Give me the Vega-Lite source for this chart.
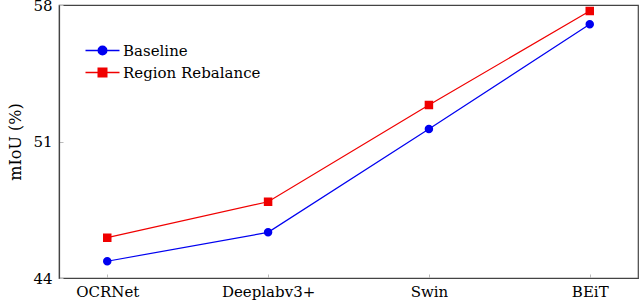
{
  "$schema": "https://vega.github.io/schema/vega-lite/v6.json",
  "width": 579,
  "height": 273,
  "autosize": {"type": "none"},
  "padding": {"left": 59, "top": 5, "right": 2, "bottom": 24},
  "background": "white",
  "config": {
    "view": {"stroke": "#444444", "strokeWidth": 1.2},
    "font": "DejaVu Serif",
    "axis": {
      "domainColor": "#444444",
      "domainWidth": 1.2,
      "tickColor": "#bbbbbb",
      "tickSize": -4,
      "labelColor": "black",
      "labelFont": "DejaVu Serif",
      "labelFontSize": 15,
      "titleFont": "DejaVu Serif",
      "titleFontWeight": "normal",
      "titleColor": "black",
      "titleFontSize": 16,
      "grid": false
    },
    "legend": {
      "labelFont": "DejaVu Serif",
      "labelFontSize": 15,
      "labelColor": "black"
    }
  },
  "data": {
    "values": [
      {"model": "OCRNet", "method": "Baseline", "miou": 44.86},
      {"model": "Deeplabv3+", "method": "Baseline", "miou": 46.34},
      {"model": "Swin", "method": "Baseline", "miou": 51.64},
      {"model": "BEiT", "method": "Baseline", "miou": 57.01},
      {"model": "OCRNet", "method": "Region Rebalance", "miou": 46.07},
      {"model": "Deeplabv3+", "method": "Region Rebalance", "miou": 47.91},
      {"model": "Swin", "method": "Region Rebalance", "miou": 52.87},
      {"model": "BEiT", "method": "Region Rebalance", "miou": 57.69}
    ]
  },
  "encoding": {
    "x": {
      "field": "model",
      "type": "nominal",
      "sort": ["OCRNet", "Deeplabv3+", "Swin", "BEiT"],
      "scale": {"type": "point", "padding": 0.3},
      "axis": {"title": null, "labelAngle": 0, "labelPadding": 10}
    },
    "y": {
      "field": "miou",
      "type": "quantitative",
      "scale": {"domain": [44, 58], "nice": false, "zero": false},
      "axis": {"values": [44, 51, 58], "title": "mIoU (%)", "labelPadding": 11, "titlePadding": 9}
    },
    "color": {
      "field": "method",
      "type": "nominal",
      "scale": {"domain": ["Baseline", "Region Rebalance"], "range": ["#0000f0", "#f00000"]},
      "legend": {
        "title": null,
        "orient": "none",
        "legendX": 36,
        "legendY": 38,
        "symbolSize": 100,
        "labelOffset": 13,
        "rowPadding": 6,
        "padding": 0,
        "labelFont": "DejaVu Serif",
        "labelFontSize": 15,
        "labelColor": "black"
      }
    }
  },
  "layer": [
    {
      "mark": {"type": "line", "strokeWidth": 1.2}
    },
    {
      "mark": {"type": "point", "filled": true, "opacity": 1, "size": 100, "strokeWidth": 0},
      "encoding": {
        "shape": {
          "field": "method",
          "type": "nominal",
          "scale": {
            "domain": ["Baseline", "Region Rebalance"],
            "range": [
              "M-3.4,0H3.4M-0.85,0A0.85,0.85 0 1,0 0.85,0A0.85,0.85 0 1,0 -0.85,0Z",
              "M-3.4,0H3.4M-0.85,-0.85H0.85V0.85H-0.85Z"
            ]
          },
          "legend": {
            "title": null,
            "orient": "none",
            "legendX": 36,
            "legendY": 38,
            "symbolSize": 100,
            "labelOffset": 13,
            "rowPadding": 6,
            "padding": 0,
            "labelFont": "DejaVu Serif",
            "labelFontSize": 15,
            "labelColor": "black"
          }
        }
      }
    }
  ]
}
